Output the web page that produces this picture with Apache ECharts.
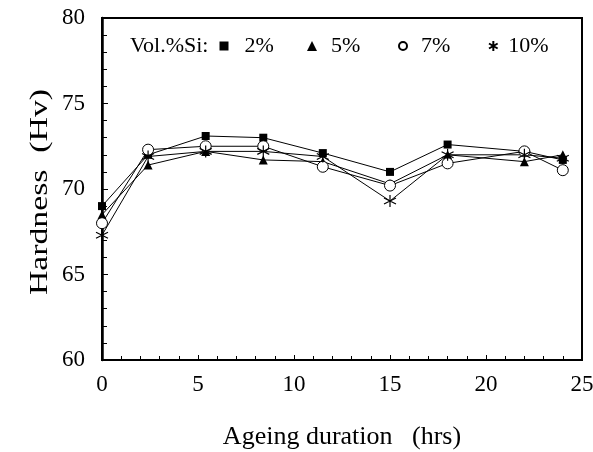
<!DOCTYPE html>
<html>
<head>
<meta charset="utf-8">
<script src="https://cdn.jsdelivr.net/npm/echarts@6/dist/echarts.min.js"></script>
<style>html,body{margin:0;padding:0;background:#fff}#c{width:593px;height:452px}</style>
</head>
<body>
<div id="c"></div>
<script>
const hours = [0, 2.4, 5.4, 8.4, 11.5, 15, 18, 22, 24];
const si2  = [69.0, 72.0, 73.1, 73.0, 72.1, 71.0, 72.6, 72.2, 71.7];
const si5  = [68.5, 71.4, 72.2, 71.7, 71.6, 70.3, 72.0, 71.6, 72.0];
const si7  = [68.0, 72.3, 72.5, 72.5, 71.3, 70.2, 71.5, 72.2, 71.1];
const si10 = [67.3, 71.9, 72.2, 72.2, 71.9, 69.3, 72.0, 72.0, 71.8];
const names = ['2%', '5%', '7%', '10%'];
const xTicks = [0, 5, 10, 15, 20, 25];
const yTicks = [60, 65, 70, 75, 80];

const FONT = 'Liberation Serif';
const star = 'path://M0,-10 L0,10 M-8.66,-5 L8.66,5 M-8.66,5 L8.66,-5';

function pairs(v){ return hours.map((h,i)=>[h, v[i]]); }

const seriesDefs = [
  {name: names[0], data: si2, symbol: 'rect', size: 8, item: {color:'#000'}},
  {name: names[1], data: si5, symbol: 'triangle', size: 9, item: {color:'#000'}},
  {name: names[2], data: si7, symbol: 'circle', size: 11, item: {color:'#fff', borderColor:'#000', borderWidth:1}},
  {name: names[3], data: si10, symbol: star, size: 12, item: {color:'#000', borderColor:'#000', borderWidth:1.2}}
];

const legendCfg = [
  {left: 219.5, s: 9, pad: 11},
  {left: 307, s: 10, pad: 9},
  {left: 398, s: 8, pad: 9},
  {left: 488, s: 10, pad: 5}
];
const legends = seriesDefs.map((s,i)=>({
  left: legendCfg[i].left, top: 35,
  data: [{name: s.name, icon: s.symbol}],
  itemWidth: legendCfg[i].s, itemHeight: legendCfg[i].s,
  itemGap: 0, padding: 0,
  selectedMode: false,
  textStyle: {fontFamily: FONT, fontSize: 22, color: '#000', padding: [0, 0, 0, legendCfg[i].pad]}
}));

const chart = echarts.init(document.getElementById('c'));
chart.setOption({
  backgroundColor: '#fff',
  animation: false,
  grid: {left: 102, right: 11, top: 18, bottom: 92, show: true, borderColor: '#000', borderWidth: 2,
         backgroundColor: 'transparent', outerBoundsMode: 'none', containLabel: false},
  legend: legends,
  graphic: [{
    type: 'text', left: 130, top: 35,
    style: {text: 'Vol.%Si:', font: '22px "Liberation Serif"', fill: '#000'}
  }, {
    type: 'text', x: 40, y: 192, rotation: Math.PI / 2, scaleX: 1.35,
    style: {text: 'Hardness  (Hv)', font: '25px "Liberation Serif"', fill: '#000', align: 'center', verticalAlign: 'middle'}
  }],
  xAxis: {
    type: 'value', min: 0, max: 25, interval: 5,
    name: 'Ageing duration   (hrs)', nameLocation: 'middle', nameGap: 64,
    nameTextStyle: {fontFamily: FONT, fontSize: 26, color: '#000'},
    axisLine: {show: true, lineStyle: {color: '#000', width: 2}},
    axisTick: {show: true, inside: true, length: 5, lineStyle: {color:'#000', width: 1}},
    minorTick: {show: true, splitNumber: 5, length: 4, lineStyle: {color:'#000', width: 1}},
    splitLine: {show: false},
    axisLabel: {margin: 13, fontFamily: FONT, fontSize: 23, color: '#000',
      formatter: v => xTicks.includes(v) ? String(v) : ''}
  },
  yAxis: {
    type: 'value', min: 60, max: 80, interval: 5,
    axisLine: {show: true, lineStyle: {color: '#000', width: 2.5}},
    axisTick: {show: true, inside: true, length: 6, lineStyle: {color:'#000', width: 1}},
    minorTick: {show: true, splitNumber: 5, length: 5, lineStyle: {color:'#000', width: 1}},
    splitLine: {show: false},
    axisLabel: {margin: 17, fontFamily: FONT, fontSize: 23, color: '#000',
      formatter: v => yTicks.includes(v) ? String(v) : ''}
  },
  series: seriesDefs.map(s=>({
    type: 'line', name: s.name, data: pairs(s.data),
    symbol: s.symbol, symbolSize: s.size, showAllSymbol: true,
    lineStyle: {color: '#000', width: 1},
    itemStyle: s.item,
    emphasis: {disabled: true}
  }))
});
</script>
</body>
</html>
